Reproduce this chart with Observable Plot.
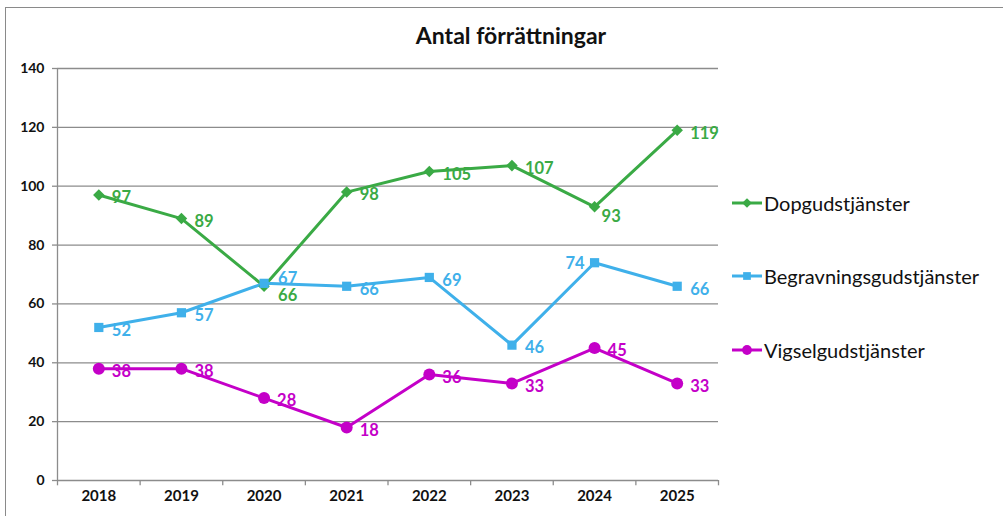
<!DOCTYPE html>
<html>
<head>
<meta charset="utf-8">
<script src="https://cdn.jsdelivr.net/npm/d3@7"></script>
<script src="https://cdn.jsdelivr.net/npm/@observablehq/plot@0.6"></script>
<style>
  html, body { margin: 0; padding: 0; background: #fff; }
  #wrap { position: relative; width: 1003px; height: 516px; overflow: hidden; font-family: Lato, "Open Sans", sans-serif; }
  #frame { position: absolute; left: 5px; top: 7px; width: 1010px; height: 520px; border: 1px solid #8a8a8a; box-sizing: border-box; }
  #title { position: absolute; left: 0; width: 1022px; top: 21px; text-align: center; font-weight: bold; font-size: 23px; color: #111; }
  #legend { position: absolute; left: 731px; top: 0; }
  .li { position: absolute; left: 0; display: flex; align-items: center; white-space: nowrap; font-size: 20px; color: #111; }
  .li svg { margin-right: 1px; }
  #chart { position: absolute; left: 0; top: 0; }
</style>
</head>
<body>
<div id="wrap">
  <div id="frame"></div>
  <div id="chart"></div>
  <div id="title">Antal förrättningar</div>
  <div id="legend"></div>
</div>
<script>
const years = [2018, 2019, 2020, 2021, 2022, 2023, 2024, 2025];
const seriesNames = ["Dopgudstjänster", "Begravningsgudstjänster", "Vigselgudstjänster"];
const dop = [97, 89, 66, 98, 105, 107, 93, 119];
const begravning = [52, 57, 67, 66, 69, 46, 74, 66];
const vigsel = [38, 38, 28, 18, 36, 33, 45, 33];
const yTicks = [0, 20, 40, 60, 80, 100, 120, 140];

const colors = ["#3aaa45", "#3fb0ea", "#c400c8"];
const symbols = ["diamond2", "square", "circle"];
const dotR = [5.2, 5.2, 6];

const valuesBySeries = [dop, begravning, vigsel];
const data = [];
seriesNames.forEach((s, i) => {
  years.forEach((y, j) => data.push({series: s, year: y, value: valuesBySeries[i][j]}));
});

// label placement (right of point by default)
function place(d) {
  if (d.series === "Begravningsgudstjänster" && d.year === 2024) return {anchor: "end", dx: -10, dy: 1};
  if (d.series === "Dopgudstjänster" && d.year === 2024) return {anchor: "start", dx: 7, dy: 10};
  if (d.series === "Dopgudstjänster" && d.year === 2020) return {anchor: "start", dx: 14, dy: 9};
  if (d.series === "Begravningsgudstjänster" && d.year === 2020) return {anchor: "start", dx: 14, dy: -5};
  return {anchor: "start", dx: 13, dy: 3};
}
const groups = {};
data.forEach(d => {
  const p = place(d);
  const k = p.anchor + "|" + p.dx + "|" + p.dy;
  (groups[k] = groups[k] || {p, rows: []}).rows.push(d);
});

const boundaries = [years[0] - 0.5, ...years.map(y => y + 0.5)];

const labelMarks = Object.values(groups).map(g =>
  Plot.text(g.rows, {x: "year", y: "value", text: d => String(d.value), fill: "series",
    textAnchor: g.p.anchor, dx: g.p.dx, dy: g.p.dy, fontSize: 16.5, fontWeight: "bold"})
);

const dotMarks = seriesNames.map((s, i) =>
  Plot.dot(data.filter(d => d.series === s), {x: "year", y: "value", fill: "series", symbol: "series", r: dotR[i], stroke: "none"})
);

const chart = Plot.plot({
  width: 1003,
  height: 516,
  marginLeft: 57,
  marginRight: 285,
  marginTop: 68,
  marginBottom: 36,
  style: {fontFamily: "Lato, 'Open Sans', sans-serif", background: "transparent", overflow: "visible"},
  x: {domain: [years[0] - 0.5, years[years.length - 1] + 0.5], axis: null},
  y: {domain: [0, 140], axis: null},
  color: {domain: seriesNames, range: colors},
  symbol: {domain: seriesNames, range: symbols},
  marks: [
    Plot.ruleY(yTicks, {stroke: "#8c8c8c", strokeWidth: 1.3}),
    Plot.ruleX([boundaries[0]], {y1: 0, y2: 140, stroke: "#8c8c8c", strokeWidth: 1.3}),
    Plot.ruleX(boundaries, {y1: 0, y2: -1.8, stroke: "#8c8c8c", strokeWidth: 1.3}),
    Plot.axisY({ticks: yTicks, tickSize: 5, tickFormat: () => "", stroke: "#8c8c8c", strokeWidth: 1.3, label: null}),
    Plot.text(yTicks, {y: d => d, frameAnchor: "left", textAnchor: "end", dx: -13, text: d => String(d), fontSize: 14, fontWeight: "bold", fill: "#111"}),
    Plot.text(years, {x: d => d, frameAnchor: "bottom", dy: 20, text: d => String(d), fontSize: 15, fontWeight: "bold", fill: "#111"}),
    Plot.line(data, {x: "year", y: "value", z: "series", stroke: "series", strokeWidth: 3}),
    ...dotMarks,
    ...labelMarks
  ]
});
document.getElementById("chart").appendChild(chart);

// legend
const legendY = [204, 277, 351];
const legend = document.getElementById("legend");
seriesNames.forEach((s, i) => {
  const div = document.createElement("div");
  div.className = "li";
  div.style.top = (legendY[i] - 13) + "px";
  const sw = d3.create("svg").attr("width", 32).attr("height", 24);
  sw.append("line").attr("x1", 1).attr("x2", 31).attr("y1", 12).attr("y2", 12).attr("stroke", colors[i]).attr("stroke-width", 3);
  const symMap = {diamond2: d3.symbolDiamond2, square: d3.symbolSquare, circle: d3.symbolCircle};
  const size = i === 2 ? 75 : 60;
  sw.append("path").attr("d", d3.symbol(symMap[symbols[i]], size)()).attr("transform", "translate(16,12)").attr("fill", colors[i]);
  div.appendChild(sw.node());
  const t = document.createElement("span");
  t.textContent = s;
  div.appendChild(t);
  legend.appendChild(div);
});
</script>
</body>
</html>
